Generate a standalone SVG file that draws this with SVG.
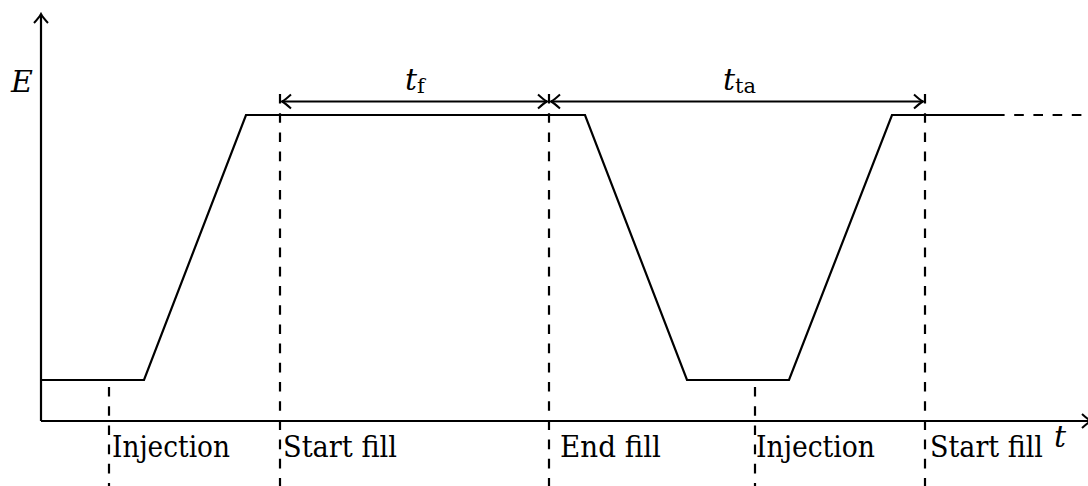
<svg xmlns="http://www.w3.org/2000/svg" width="1088" height="486" viewBox="0 0 1088 486">
<style>
.ln{fill:none;stroke:#000;stroke-width:2.2}
.dash{fill:none;stroke:#000;stroke-width:2.2;stroke-dasharray:9.6 9.6}
text{font-family:'DejaVu Serif','Liberation Serif',serif;font-size:30px;fill:#000}
.it{font-style:italic}
.sub{font-size:21px}
</style>
<defs>
<marker id="ar" markerUnits="userSpaceOnUse" viewBox="-12 -9 14 18" markerWidth="14" markerHeight="18" refX="0" refY="0" orient="auto-start-reverse">
<path d="M-9,-7 Q-3,-1.5 0,0 Q-3,1.5 -9,7" fill="none" stroke="#000" stroke-width="2"/>
</marker>
</defs>
<rect width="1088" height="486" fill="#fff"/>
<g id="axes">
<path class="ln" d="M41,421 V14" marker-end="url(#ar)"/>
<path class="ln" d="M41,421 H1091" marker-end="url(#ar)"/>
<text class="it" x="11" y="92">E</text>
<text class="it" x="1054" y="447">t</text>
</g>
<g id="curve">
<path class="ln" d="M41,380 H144 L246,115 H585 L687,380 H789 L892,115 H995"/>
<path class="dash" d="M995,115 H1088"/>
</g>
<g id="connectors">
<path class="dash" d="M109,387 V486"/>
<path class="dash" d="M280,94 V486"/>
<path class="dash" d="M549,94 V486"/>
<path class="dash" d="M755,387 V486"/>
<path class="dash" d="M925,94 V486"/>
<path class="ln" d="M282,101.5 H547" marker-start="url(#ar)" marker-end="url(#ar)"/>
<path class="ln" d="M551,101.5 H923" marker-start="url(#ar)" marker-end="url(#ar)"/>
</g>
<g id="tf">
<text x="405" y="90"><tspan class="it">t</tspan><tspan class="sub" dy="3">f</tspan></text>
</g>
<g id="tta">
<text x="723" y="90"><tspan class="it">t</tspan><tspan class="sub" dy="3">ta</tspan></text>
</g>
<g id="labels">
<text x="112" y="457" textLength="118" lengthAdjust="spacingAndGlyphs">Injection</text>
<text x="283" y="457" textLength="114" lengthAdjust="spacingAndGlyphs">Start fill</text>
<text x="560" y="457" textLength="101" lengthAdjust="spacingAndGlyphs">End fill</text>
<text x="756" y="457" textLength="119" lengthAdjust="spacingAndGlyphs">Injection</text>
<text x="930" y="457" textLength="113" lengthAdjust="spacingAndGlyphs">Start fill</text>
</g>
</svg>
